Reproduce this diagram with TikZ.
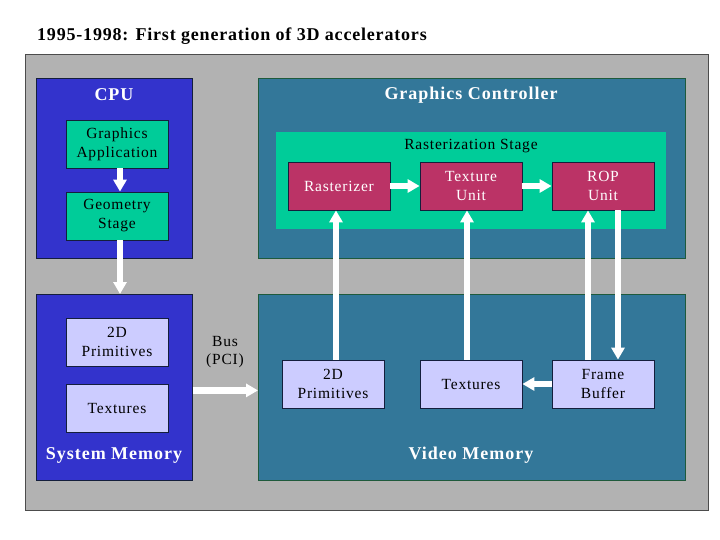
\documentclass[tikz,border=0pt]{standalone}
\usepackage{fontspec}
\setmainfont{Liberation Serif}
\newfontfamily\boxfont[LetterSpace=5]{Liberation Serif}
\newfontfamily\titlefont[LetterSpace=4.5]{Liberation Serif}
\newfontfamily\headfont[LetterSpace=5.5]{Liberation Serif}
\usetikzlibrary{arrows.meta}
\definecolor{panelgray}{RGB}{178,178,178}
\definecolor{cpublue}{RGB}{51,51,204}
\definecolor{gcteal}{RGB}{51,119,153}
\definecolor{stagegreen}{RGB}{0,204,153}
\definecolor{unitred}{RGB}{187,51,102}
\definecolor{memlav}{RGB}{204,204,255}
\definecolor{edgedark}{RGB}{20,30,60}
\definecolor{edgegreen}{RGB}{30,90,60}
\tikzset{
  bigbox/.style={draw=#1, line width=0.8pt, inner sep=0pt, anchor=north west},
  bigtitle/.style={text=white, font=\headfont\fontsize{18}{20}\selectfont\bfseries},
  greenbox/.style={draw=edgedark, fill=stagegreen, line width=0.8pt, minimum width=102pt, minimum height=48pt, inner sep=0pt, align=center, font=\boxfont\fontsize{15.5}{19}\selectfont},
  redbox/.style={greenbox, fill=unitred, text=white},
  lavbox/.style={greenbox, fill=memlav, text=black},
  fat/.style={draw=white, line width=6.5pt, -{Triangle[length=12pt,width=13pt]}},
}
\begin{document}
\begin{tikzpicture}[x=1pt,y=-1pt]
\useasboundingbox (0,0) rectangle (720,540);
\fill[white] (0,0) rectangle (720,540);
\node[anchor=base west, font=\titlefont\fontsize{18}{20}\selectfont\bfseries, inner sep=0pt] (title) at (37,41) {1995-1998: First generation of 3D accelerators};
\node[draw=black!70, fill=panelgray, line width=0.8pt, minimum width=683pt, minimum height=456pt, anchor=north west, inner sep=0pt] (panel) at (25,54) {};
% CPU
\node[bigbox=edgedark, fill=cpublue, minimum width=156pt, minimum height=180pt] (cpu) at (36,78) {};
\node[bigtitle] (cputitle) at (114,95) {CPU};
\node[greenbox] (ga) at (117,144) {Graphics\\Application};
\node[greenbox] (geo) at (117,216) {Geometry\\Stage};
% Graphics controller
\node[bigbox=edgegreen, fill=gcteal, minimum width=427pt, minimum height=180pt] (gc) at (258,78) {};
\node[bigtitle] (gctitle) at (471,95) {Graphics Controller};
\node[fill=stagegreen, minimum width=390pt, minimum height=97pt, inner sep=0pt, anchor=north west] (rs) at (276,132) {};
\node[font=\boxfont\fontsize{15.5}{19}\selectfont, text=black] (rstitle) at (471,146) {Rasterization Stage};
\node[redbox] (rast) at (339,186) {Rasterizer};
\node[redbox] (tex) at (471,186) {Texture\\Unit};
\node[redbox] (rop) at (603,186) {ROP\\Unit};
% System memory
\node[bigbox=edgedark, fill=cpublue, minimum width=156pt, minimum height=186pt] (sysmem) at (36,294) {};
\node[bigtitle] (systitle) at (114,455) {System Memory};
\node[lavbox] (sprim) at (117,342) {2D\\Primitives};
\node[lavbox] (stex) at (117,408) {Textures};
% Video memory
\node[bigbox=edgegreen, fill=gcteal, minimum width=427pt, minimum height=186pt] (vidmem) at (258,294) {};
\node[bigtitle] (vidtitle) at (471,455) {Video Memory};
\node[lavbox] (vprim) at (333,384) {2D\\Primitives};
\node[lavbox] (vtex) at (471,384) {Textures};
\node[lavbox] (fb) at (603,384) {Frame\\Buffer};
% Bus label
\node[align=center, font=\boxfont\fontsize{15.5}{18}\selectfont] (bus) at (225,352) {Bus\\(PCI)};
% arrows
\draw[fat] ([xshift=3pt]ga.south) -- ([xshift=3pt]geo.north);
\draw[fat] ([xshift=3pt]geo.south) -- ([xshift=3pt]geo.south |- sysmem.north);
\draw[fat] ([yshift=-3pt]sysmem.east) -- ([yshift=-3pt]vidmem.west);
\draw[fat] (rast.east) -- (tex.west);
\draw[fat] (tex.east) -- (rop.west);
\draw[fat] ([xshift=3pt]vprim.north) -- ([xshift=3pt]vprim.north |- rast.south);
\draw[fat] ([xshift=-4pt]vtex.north) -- ([xshift=-4pt]tex.south);
\draw[fat] ([xshift=-15pt]fb.north) -- ([xshift=-15pt]rop.south);
\draw[fat] ([xshift=15pt]rop.south) -- ([xshift=15pt]fb.north);
\draw[fat] (fb.west) -- (vtex.east);
\end{tikzpicture}
\end{document}
